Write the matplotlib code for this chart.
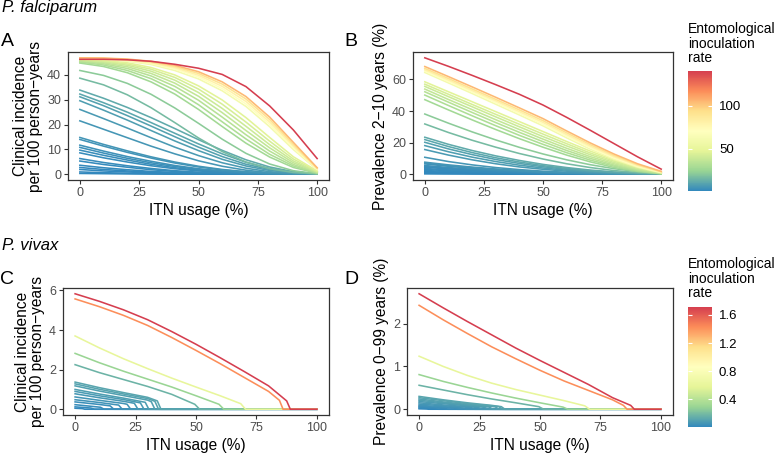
import matplotlib
matplotlib.use("Agg")
import matplotlib.pyplot as plt
from matplotlib.colors import LinearSegmentedColormap, Normalize
from matplotlib.cm import ScalarMappable

plt.rcParams['font.family'] = ['Liberation Sans', 'DejaVu Sans']

# ---- data ----
itn = [0, 10, 20, 30, 40, 50, 60, 70, 80, 90, 100]

# P. falciparum, one curve per EIR (ascending)
pf_eir = [0.1, 0.2, 0.4, 0.6, 0.8, 1.0, 1.3, 1.6, 2.0, 2.5, 3.0, 3.5, 4.0,
          5, 6, 7, 8, 9.5, 11, 16, 21,
          27, 30, 33, 36, 39, 42, 46,
          60, 70, 80, 92, 105, 141]

pf_clin = [
    [0.3, 0.2, 0.1, 0.05, 0, 0, 0, 0, 0, 0, 0],
    [0.9, 0.6, 0.4, 0.2, 0.1, 0.05, 0, 0, 0, 0, 0],
    [1.9, 1.3, 0.9, 0.5, 0.3, 0.15, 0.05, 0, 0, 0, 0],
    [2.7, 1.9, 1.3, 0.8, 0.5, 0.25, 0.1, 0.05, 0, 0, 0],
    [3.6, 2.6, 1.8, 1.1, 0.7, 0.4, 0.2, 0.1, 0, 0, 0],
    [5.3, 3.9, 2.8, 1.8, 1.1, 0.6, 0.3, 0.1, 0, 0, 0],
    [6.3, 4.7, 3.4, 2.3, 1.4, 0.8, 0.4, 0.2, 0.05, 0, 0],
    [8.6, 6.6, 4.9, 3.4, 2.2, 1.3, 0.7, 0.3, 0.1, 0, 0],
    [9.7, 7.6, 5.7, 4.0, 2.6, 1.6, 0.9, 0.4, 0.15, 0, 0],
    [10.8, 8.5, 6.4, 4.6, 3.1, 1.9, 1.1, 0.5, 0.2, 0.05, 0],
    [11.7, 9.3, 7.1, 5.2, 3.5, 2.2, 1.3, 0.6, 0.2, 0.05, 0],
    [14.0, 11.3, 8.8, 6.5, 4.5, 2.9, 1.7, 0.9, 0.4, 0.1, 0],
    [14.8, 12.0, 9.4, 7.0, 4.9, 3.2, 1.9, 1.0, 0.4, 0.1, 0],
    [21.5, 18.1, 14.7, 11.3, 8.2, 5.4, 3.2, 1.6, 0.6, 0.2, 0.0],
    [26.1, 22.4, 18.6, 14.7, 10.9, 7.5, 4.6, 2.4, 1.0, 0.3, 0.0],
    [29.6, 25.8, 21.8, 17.6, 13.4, 9.5, 6.0, 3.3, 1.5, 0.5, 0.05],
    [31.2, 27.6, 23.6, 19.4, 15.1, 10.9, 7.1, 4.0, 1.9, 0.6, 0.1],
    [32.3, 28.8, 25.0, 20.8, 16.5, 12.2, 8.2, 4.8, 2.3, 0.8, 0.1],
    [33.9, 30.6, 26.9, 22.8, 18.4, 13.9, 9.6, 5.8, 2.9, 1.0, 0.1],
    [38.7, 36.0, 32.0, 26.8, 20.8, 14.6, 9.1, 4.9, 2.2, 0.7, 0.1],
    [41.8, 39.8, 36.6, 32.2, 26.7, 20.5, 14.1, 8.4, 4.1, 1.4, 0.2],
    [44.8, 43.4, 40.9, 37.2, 32.3, 26.1, 19.2, 12.5, 6.9, 2.7, 0.4],
    [45.2, 44.0, 41.8, 38.5, 33.9, 28.0, 21.1, 14.2, 8.0, 3.3, 0.5],
    [45.5, 44.5, 42.6, 39.6, 35.4, 29.8, 23.0, 15.9, 9.3, 3.9, 0.6],
    [45.8, 44.9, 43.3, 40.6, 36.7, 31.4, 24.8, 17.6, 10.6, 4.6, 0.8],
    [46.0, 45.3, 43.9, 41.5, 37.9, 32.9, 26.5, 19.3, 11.9, 5.3, 0.9],
    [46.2, 45.6, 44.4, 42.3, 39.0, 34.3, 28.2, 21.0, 13.3, 6.1, 1.1],
    [46.4, 45.9, 44.9, 43.0, 40.0, 35.6, 29.9, 22.8, 14.8, 7.0, 1.3],
    [46.6, 46.3, 45.5, 44.2, 41.8, 38.4, 33.6, 27.3, 19.1, 9.9, 1.8],
    [46.7, 46.5, 45.8, 44.6, 42.4, 39.2, 34.5, 28.3, 20.1, 10.6, 2.0],
    [46.8, 46.6, 46.0, 44.9, 42.9, 39.9, 35.4, 29.3, 21.0, 11.3, 2.2],
    [46.8, 46.7, 46.2, 45.2, 43.4, 40.6, 36.3, 30.3, 22.0, 12.0, 2.4],
    [46.9, 46.8, 46.4, 45.5, 43.9, 41.3, 37.2, 31.3, 23.0, 12.8, 2.6],
    [46.3, 46.3, 46.1, 45.5, 44.3, 42.7, 40.2, 35.3, 27.5, 17.8, 6.3],
]

pf_prev = [
    [0.2, 0.15, 0.1, 0.05, 0, 0, 0, 0, 0, 0, 0],
    [0.6, 0.4, 0.3, 0.2, 0.1, 0.05, 0, 0, 0, 0, 0],
    [1.1, 0.8, 0.55, 0.35, 0.2, 0.1, 0.05, 0, 0, 0, 0],
    [1.7, 1.2, 0.85, 0.55, 0.35, 0.2, 0.1, 0, 0, 0, 0],
    [2.3, 1.7, 1.2, 0.8, 0.5, 0.3, 0.15, 0.05, 0, 0, 0],
    [3.0, 2.2, 1.6, 1.1, 0.7, 0.4, 0.25, 0.1, 0, 0, 0],
    [3.6, 2.7, 1.9, 1.3, 0.9, 0.55, 0.3, 0.15, 0.05, 0, 0],
    [4.4, 3.3, 2.4, 1.7, 1.1, 0.7, 0.4, 0.2, 0.1, 0, 0],
    [4.9, 3.7, 2.7, 1.9, 1.3, 0.8, 0.5, 0.25, 0.1, 0, 0],
    [5.5, 4.2, 3.1, 2.2, 1.5, 1.0, 0.6, 0.3, 0.1, 0, 0],
    [6.5, 5.0, 3.7, 2.7, 1.9, 1.2, 0.7, 0.4, 0.15, 0, 0],
    [7.0, 5.4, 4.1, 3.0, 2.1, 1.4, 0.8, 0.4, 0.2, 0.05, 0],
    [7.6, 5.9, 4.5, 3.3, 2.3, 1.5, 0.9, 0.5, 0.2, 0.05, 0],
    [10.7, 8.0, 5.9, 4.2, 2.9, 1.9, 1.2, 0.7, 0.3, 0.1, 0.0],
    [15.6, 12.1, 9.1, 6.6, 4.6, 3.1, 1.9, 1.1, 0.6, 0.2, 0.0],
    [18.1, 14.2, 10.8, 8.0, 5.7, 3.9, 2.5, 1.5, 0.8, 0.3, 0.05],
    [20.2, 16.0, 12.4, 9.3, 6.8, 4.7, 3.1, 1.8, 1.0, 0.4, 0.1],
    [21.9, 17.5, 13.7, 10.4, 7.7, 5.4, 3.6, 2.2, 1.2, 0.5, 0.1],
    [23.4, 18.9, 15.0, 11.6, 8.7, 6.2, 4.2, 2.6, 1.4, 0.6, 0.1],
    [31.8, 26.4, 21.5, 17.1, 13.1, 9.6, 6.6, 4.2, 2.3, 1.0, 0.2],
    [38.1, 32.3, 26.8, 21.7, 17.0, 12.8, 9.1, 6.0, 3.5, 1.6, 0.3],
    [47.2, 40.7, 34.4, 28.3, 22.5, 17.1, 12.1, 7.8, 4.3, 1.8, 0.3],
    [50.1, 43.5, 37.0, 30.7, 24.6, 18.9, 13.6, 8.9, 5.1, 2.2, 0.4],
    [52.2, 45.6, 39.1, 32.7, 26.5, 20.6, 15.0, 10.0, 5.8, 2.6, 0.5],
    [53.9, 47.3, 40.9, 34.5, 28.3, 22.2, 16.4, 11.1, 6.6, 3.0, 0.6],
    [55.6, 49.1, 42.7, 36.3, 30.0, 23.8, 17.9, 12.3, 7.4, 3.5, 0.8],
    [57.0, 50.6, 44.2, 37.9, 31.6, 25.4, 19.3, 13.4, 8.2, 3.9, 0.9],
    [58.5, 52.2, 45.9, 39.6, 33.3, 27.0, 20.7, 14.6, 9.0, 4.4, 1.0],
    [64.4, 57.8, 51.1, 44.3, 37.5, 30.6, 23.0, 15.8, 9.5, 4.5, 1.0],
    [65.3, 58.7, 52.1, 45.4, 38.6, 31.7, 24.1, 16.8, 10.3, 5.0, 1.2],
    [66.1, 59.6, 53.0, 46.4, 39.6, 32.8, 25.1, 17.7, 11.1, 5.5, 1.4],
    [67.0, 60.6, 54.0, 47.4, 40.7, 33.9, 26.2, 18.7, 11.9, 6.0, 1.6],
    [68.2, 61.8, 55.3, 48.7, 42.0, 35.2, 27.4, 19.8, 12.8, 6.6, 1.8],
    [73.7, 68.3, 62.6, 56.7, 50.6, 43.8, 36.0, 27.8, 19.4, 11.0, 3.2],
]

# P. vivax: each curve stops at its own elimination threshold
pv_eir = [0.01, 0.02, 0.03, 0.04, 0.05, 0.06, 0.07, 0.08, 0.09, 0.10, 0.11, 0.12,
          0.17, 0.30, 0.60, 1.42, 1.71]

pv_itn = [
    [0, 3, 4, 100],
    [0, 6.5, 8, 100],
    [0, 10.5, 12, 100],
    [0, 10, 14.5, 16, 100],
    [0, 10, 18, 19.5, 100],
    [0, 10, 20, 21.5, 23, 100],
    [0, 10, 20, 24.5, 26, 100],
    [0, 10, 20, 27, 28.5, 100],
    [0, 10, 20, 29, 30.5, 100],
    [0, 10, 20, 30, 31.5, 33, 100],
    [0, 10, 20, 30, 33, 34.5, 100],
    [0, 10, 20, 30, 34, 35.5, 100],
    [0, 10, 20, 30, 40, 49.5, 51.5, 100],
    [0, 10, 20, 30, 40, 50, 59.5, 61.5, 100],
    [0, 10, 20, 30, 40, 50, 60, 68.5, 70.5, 100],
    [0, 10, 20, 30, 40, 50, 60, 70, 80, 84.5, 86, 100],
    [0, 10, 20, 30, 40, 50, 60, 70, 80, 87.5, 89, 100],
]

pv_clin = [
    [0.05, 0.03, 0, 0],
    [0.12, 0.06, 0, 0],
    [0.23, 0.1, 0, 0],
    [0.37, 0.24, 0.17, 0, 0],
    [0.48, 0.34, 0.21, 0, 0],
    [0.62, 0.45, 0.29, 0.25, 0, 0],
    [0.78, 0.58, 0.4, 0.3, 0, 0],
    [0.9, 0.68, 0.49, 0.32, 0, 0],
    [1.0, 0.77, 0.56, 0.35, 0, 0],
    [1.18, 0.92, 0.69, 0.46, 0.38, 0, 0],
    [1.28, 1.01, 0.77, 0.54, 0.4, 0, 0],
    [1.37, 1.09, 0.84, 0.6, 0.42, 0, 0],
    [2.25, 1.85, 1.5, 1.15, 0.75, 0.25, 0, 0],
    [2.82, 2.35, 1.92, 1.52, 1.12, 0.68, 0.25, 0, 0],
    [3.7, 3.1, 2.55, 2.05, 1.57, 1.12, 0.68, 0.28, 0, 0],
    [5.57, 5.18, 4.74, 4.23, 3.62, 2.97, 2.3, 1.6, 0.9, 0.45, 0, 0],
    [5.83, 5.45, 5.02, 4.52, 3.92, 3.28, 2.6, 1.9, 1.18, 0.42, 0, 0],
]

pv_prev = [
    [0.01, 0.005, 0, 0],
    [0.03, 0.015, 0, 0],
    [0.05, 0.02, 0, 0],
    [0.07, 0.04, 0.03, 0, 0],
    [0.09, 0.06, 0.03, 0, 0],
    [0.12, 0.08, 0.045, 0.04, 0, 0],
    [0.15, 0.10, 0.06, 0.04, 0, 0],
    [0.18, 0.13, 0.08, 0.045, 0, 0],
    [0.21, 0.15, 0.095, 0.05, 0, 0],
    [0.24, 0.17, 0.11, 0.065, 0.055, 0, 0],
    [0.27, 0.20, 0.13, 0.08, 0.06, 0, 0],
    [0.30, 0.22, 0.15, 0.09, 0.06, 0, 0],
    [0.56, 0.45, 0.34, 0.24, 0.15, 0.06, 0, 0],
    [0.81, 0.65, 0.51, 0.38, 0.26, 0.15, 0.05, 0, 0],
    [1.24, 1.0, 0.79, 0.61, 0.46, 0.33, 0.2, 0.08, 0, 0],
    [2.43, 2.09, 1.77, 1.46, 1.18, 0.91, 0.66, 0.44, 0.22, 0.09, 0, 0],
    [2.70, 2.37, 2.05, 1.74, 1.43, 1.14, 0.86, 0.58, 0.27, 0.09, 0, 0],
]

spectral = ["#3288BD", "#99D594", "#E6F598", "#FFFFBF", "#FEE08B", "#FC8D59", "#D53E4F"]
cmap = LinearSegmentedColormap.from_list("spectral_r", spectral)

W, H = 775, 453
fig = plt.figure(figsize=(W / 100, H / 100), dpi=100)


def px_axes(l, t, r, b):
    return fig.add_axes([l / W, 1 - b / H, (r - l) / W, (b - t) / H])


def style(ax, yticks, ylabel):
    for sp in ax.spines.values():
        sp.set_color('#333333')
        sp.set_linewidth(0.9)
    ax.tick_params(colors='#333333', labelcolor='#4D4D4D', labelsize=9,
                   length=3, width=0.8, pad=2)
    ax.set_xticks([0, 25, 50, 75, 100])
    ax.set_yticks(yticks)
    ax.margins(x=0.05, y=0.05)
    ax.set_xlabel("ITN usage (%)", fontsize=11.2, labelpad=3)
    ax.set_ylabel(ylabel, fontsize=11.2, labelpad=3, linespacing=1.0)


def draw(ax, xs, ys, eirs, norm):
    for x, y, e in zip(xs, ys, eirs):
        ax.plot(x, y, color=cmap(norm(e)), lw=1.15)


def colorbar(l, t, r, b, norm, ticks, labels):
    cax = px_axes(l, t, r, b)
    cb = fig.colorbar(ScalarMappable(norm=norm, cmap=cmap), cax=cax)
    cb.outline.set_visible(False)
    cb.set_ticks(ticks)
    cb.set_ticklabels(labels)
    cax.tick_params(color='white', direction='in', length=3, width=0.8,
                    left=True, right=True, labelsize=9.5, pad=5, labelcolor='black')


pf_norm = Normalize(min(pf_eir), max(pf_eir))
pv_norm = Normalize(min(pv_eir), max(pv_eir))

axA = px_axes(68, 52, 329, 180)
draw(axA, [itn] * len(pf_clin), pf_clin, pf_eir, pf_norm)
style(axA, [0, 10, 20, 30, 40], "Clinical incidence\nper 100 person\u2212years")

axB = px_axes(413, 52, 673, 180)
draw(axB, [itn] * len(pf_prev), pf_prev, pf_eir, pf_norm)
style(axB, [0, 20, 40, 60], "Prevalence 2\u221210 years (%)")

axC = px_axes(63, 288, 329, 415)
draw(axC, pv_itn, pv_clin, pv_eir, pv_norm)
style(axC, [0, 2, 4, 6], "Clinical incidence\nper 100 person\u2212years")

axD = px_axes(407, 288, 673, 415)
draw(axD, pv_itn, pv_prev, pv_eir, pv_norm)
style(axD, [0, 1, 2], "Prevalence 0\u221299 years (%)")

colorbar(688, 71, 712, 191, pf_norm, [50, 100], ["50", "100"])
colorbar(688, 307, 712, 427, pv_norm, [0.4, 0.8, 1.2, 1.6], ["0.4", "0.8", "1.2", "1.6"])

title = "Entomological\ninoculation\nrate"
fig.text(688 / W, 1 - 22 / H, title, fontsize=10, va='top', ha='left', linespacing=1.05)
fig.text(688 / W, 1 - 257 / H, title, fontsize=10, va='top', ha='left', linespacing=1.05)

fig.text(2 / W, 1 - 7.5 / H, "P. falciparum", fontsize=12, style='italic', va='center')
fig.text(2 / W, 1 - 245 / H, "P. vivax", fontsize=12, style='italic', va='center')

for lab, x, y in [("A", 7, 42), ("B", 351, 42), ("C", 7, 279), ("D", 351, 279)]:
    fig.text(x / W, 1 - y / H, lab, fontsize=14, ha='center', va='center')

fig.savefig("out.png", dpi=100)
